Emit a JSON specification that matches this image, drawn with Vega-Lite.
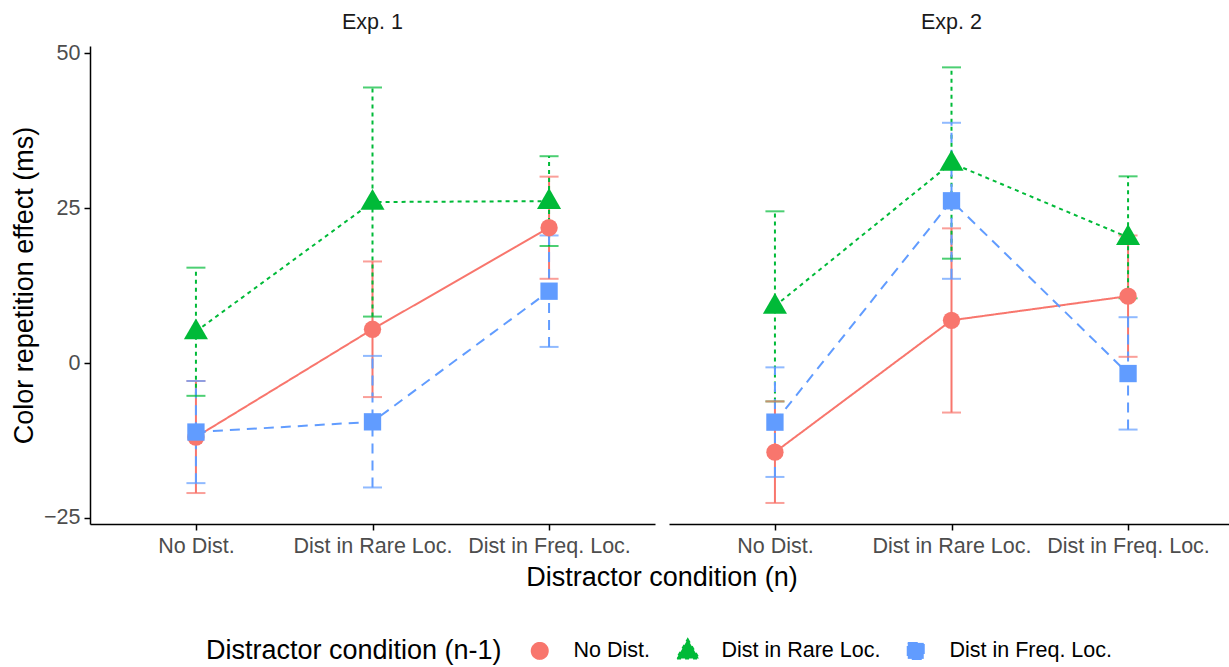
{
  "$schema": "https://vega.github.io/schema/vega-lite/v6.json",
  "background": "white",
  "padding": {"left": 10, "top": 11, "right": 0, "bottom": 5},
  "data": {"values": [
    {"exp": "Exp. 1", "cond": "No Dist.", "prev": "No Dist.", "mean": -11.95, "lo": -21.0, "hi": -2.9},
    {"exp": "Exp. 1", "cond": "Dist in Rare Loc.", "prev": "No Dist.", "mean": 5.45, "lo": -5.5, "hi": 16.4},
    {"exp": "Exp. 1", "cond": "Dist in Freq. Loc.", "prev": "No Dist.", "mean": 21.85, "lo": 13.6, "hi": 30.1},
    {"exp": "Exp. 1", "cond": "No Dist.", "prev": "Dist in Rare Loc.", "mean": 5.1, "lo": -5.3, "hi": 15.4},
    {"exp": "Exp. 1", "cond": "Dist in Rare Loc.", "prev": "Dist in Rare Loc.", "mean": 26.0, "lo": 7.5, "hi": 44.5},
    {"exp": "Exp. 1", "cond": "Dist in Freq. Loc.", "prev": "Dist in Rare Loc.", "mean": 26.15, "lo": 18.9, "hi": 33.4},
    {"exp": "Exp. 1", "cond": "No Dist.", "prev": "Dist in Freq. Loc.", "mean": -11.15, "lo": -19.4, "hi": -2.9},
    {"exp": "Exp. 1", "cond": "Dist in Rare Loc.", "prev": "Dist in Freq. Loc.", "mean": -9.5, "lo": -20.1, "hi": 1.15},
    {"exp": "Exp. 1", "cond": "Dist in Freq. Loc.", "prev": "Dist in Freq. Loc.", "mean": 11.6, "lo": 2.6, "hi": 20.6},
    {"exp": "Exp. 2", "cond": "No Dist.", "prev": "No Dist.", "mean": -14.4, "lo": -22.6, "hi": -6.2},
    {"exp": "Exp. 2", "cond": "Dist in Rare Loc.", "prev": "No Dist.", "mean": 6.9, "lo": -8.0, "hi": 21.75},
    {"exp": "Exp. 2", "cond": "Dist in Freq. Loc.", "prev": "No Dist.", "mean": 10.8, "lo": 1.0, "hi": 20.6},
    {"exp": "Exp. 2", "cond": "No Dist.", "prev": "Dist in Rare Loc.", "mean": 9.2, "lo": -6.2, "hi": 24.5},
    {"exp": "Exp. 2", "cond": "Dist in Rare Loc.", "prev": "Dist in Rare Loc.", "mean": 32.3, "lo": 16.85, "hi": 47.75},
    {"exp": "Exp. 2", "cond": "Dist in Freq. Loc.", "prev": "Dist in Rare Loc.", "mean": 20.3, "lo": 10.45, "hi": 30.15},
    {"exp": "Exp. 2", "cond": "No Dist.", "prev": "Dist in Freq. Loc.", "mean": -9.55, "lo": -18.4, "hi": -0.7},
    {"exp": "Exp. 2", "cond": "Dist in Rare Loc.", "prev": "Dist in Freq. Loc.", "mean": 26.2, "lo": 13.6, "hi": 38.8},
    {"exp": "Exp. 2", "cond": "Dist in Freq. Loc.", "prev": "Dist in Freq. Loc.", "mean": -1.7, "lo": -10.75, "hi": 7.4}
  ]},
  "facet": {
    "column": {
      "field": "exp", "type": "nominal", "title": "Distractor condition (n)",
      "header": {
        "labelOrient": "top", "titleOrient": "bottom",
        "labelFontSize": 21.5, "labelColor": "#1a1a1a", "labelFont": "Liberation Sans", "labelPadding": 13,
        "titleFontSize": 27, "titleColor": "black", "titleFont": "Liberation Sans", "titleFontWeight": "normal", "titlePadding": -2
      }
    }
  },
  "spacing": 14,
  "spec": {
    "width": 565,
    "height": 478,
    "encoding": {
      "x": {
        "field": "cond", "type": "nominal",
        "sort": ["No Dist.", "Dist in Rare Loc.", "Dist in Freq. Loc."],
        "scale": {"type": "point", "padding": 0.6},
        "axis": {"title": null, "labelAngle": 0, "labelFontSize": 21.5, "labelColor": "#4d4d4d", "domainColor": "black", "tickColor": "black", "domainWidth": 1.5, "tickWidth": 1.5, "tickSize": 6, "labelPadding": 5}
      },
      "color": {
        "field": "prev", "type": "nominal", "title": "Distractor condition (n-1)",
        "scale": {"domain": ["No Dist.", "Dist in Rare Loc.", "Dist in Freq. Loc."], "range": ["#F8766D", "#00BA38", "#619CFF"]},
        "legend": {
          "orient": "none", "legendX": 116, "legendY": 594,
          "direction": "horizontal", "titleOrient": "left", "titleLimit": 0, "labelLimit": 0,
          "titlePadding": 27, "labelOffset": 23, "columnPadding": 22, "symbolSize": 256,
          "symbolStrokeWidth": 2,
          "encode": {
            "symbols": {
              "update": {
                "shape": {"signal": "datum.value === 'No Dist.' ? 'M-2.2,0L2.2,0L-2.2,0ZM1.06,0A1.06,1.06,0,1,1,-1.06,0A1.06,1.06,0,1,1,1.06,0Z' : datum.value === 'Dist in Rare Loc.' ? 'M-2.2,0L2.2,0L-2.2,0ZM0,-1.15L1.3,0.85L-1.3,0.85Z' : 'M-2.2,0L2.2,0L-2.2,0ZM-1,-1L1,-1L1,1L-1,1Z'"},
                "stroke": {"signal": "datum.value === 'No Dist.' ? '#F8766D' : datum.value === 'Dist in Rare Loc.' ? '#00BA38' : '#619CFF'"},
                "fill": {"signal": "datum.value === 'No Dist.' ? '#F8766D' : datum.value === 'Dist in Rare Loc.' ? '#00BA38' : '#619CFF'"},
                "strokeWidth": {"value": 2},
                "strokeOpacity": {"value": 1},
                "strokeDash": {"signal": "datum.value === 'Dist in Rare Loc.' ? [4, 4] : datum.value === 'Dist in Freq. Loc.' ? [10, 7] : [1, 0]"},
                "size": {"value": 256},
                "opacity": {"value": 1}
              }
            }
          }
        }
      }
    },
    "layer": [
      {
        "mark": {"type": "rule", "strokeWidth": 2},
        "encoding": {
          "y": {"field": "lo", "type": "quantitative"},
          "y2": {"field": "hi"},
          "strokeDash": {"field": "prev", "type": "nominal", "legend": null,
            "scale": {"domain": ["No Dist.", "Dist in Rare Loc.", "Dist in Freq. Loc."], "range": [[1, 0], [4, 4], [10, 7]]}}
        }
      },
      {
        "mark": {"type": "tick", "orient": "horizontal", "size": 19, "thickness": 2},
        "encoding": {"y": {"field": "lo", "type": "quantitative"}}
      },
      {
        "mark": {"type": "tick", "orient": "horizontal", "size": 19, "thickness": 2},
        "encoding": {"y": {"field": "hi", "type": "quantitative"}}
      },
      {
        "mark": {"type": "line", "strokeWidth": 2},
        "encoding": {
          "y": {"field": "mean", "type": "quantitative"},
          "strokeDash": {"field": "prev", "type": "nominal", "legend": null,
            "scale": {"domain": ["No Dist.", "Dist in Rare Loc.", "Dist in Freq. Loc."], "range": [[1, 0], [4, 4], [10, 7]]}}
        }
      },
      {
        "mark": {"type": "point", "filled": true, "opacity": 1, "size": 300},
        "encoding": {
          "y": {
            "field": "mean", "type": "quantitative",
            "scale": {"domain": [-26, 51.2], "nice": false, "zero": false},
            "axis": {"title": "Color repetition effect (ms)", "values": [-25, 0, 25, 50], "grid": false,
              "labelFontSize": 21.5, "labelColor": "#4d4d4d", "titleFontSize": 27, "titleColor": "black", "titleFontWeight": "normal",
              "domainColor": "black", "tickColor": "black", "domainWidth": 1.5, "tickWidth": 1.5, "tickSize": 6, "labelPadding": 4, "titlePadding": 5}
          },
          "shape": {
            "field": "prev", "type": "nominal", "legend": null,
            "scale": {"domain": ["No Dist.", "Dist in Rare Loc.", "Dist in Freq. Loc."], "range": ["circle", "M0,-1.5L1.39,0.9L-1.39,0.9Z", "square"]}
          }
        }
      }
    ]
  },
  "config": {
    "font": "Liberation Sans",
    "view": {"stroke": null},
    "legend": {
      "titleFontSize": 27, "titleFontWeight": "normal", "titleColor": "black",
      "labelFontSize": 21.5, "labelColor": "black"
    }
  }
}
